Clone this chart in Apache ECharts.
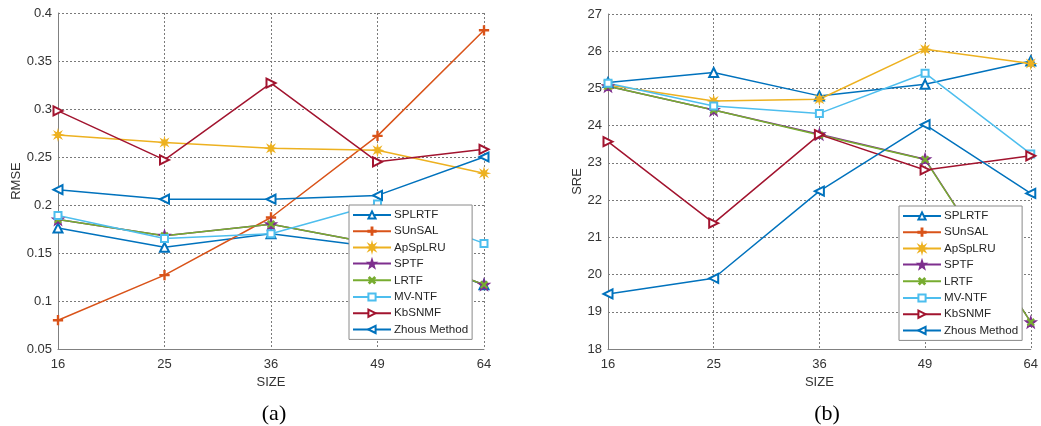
<!DOCTYPE html>
<html>
<head>
<meta charset="utf-8">
<script src="https://cdn.jsdelivr.net/npm/echarts@6/dist/echarts.min.js"></script>
<style>
html,body{margin:0;padding:0;background:#fff;}
#chart{width:1041px;height:426px;}
</style>
</head>
<body>
<div id="chart"></div>
<script>
// ---- data ----
const sizes = ['16', '25', '36', '49', '64'];
const methods = ['SPLRTF', 'SUnSAL', 'ApSpLRU', 'SPTF', 'LRTF', 'MV-NTF', 'KbSNMF', 'Zhous Method'];

// (a) RMSE
const rmseSPLRTF  = [0.176, 0.156, 0.170, 0.156, 0.117];
const rmseSUnSAL  = [0.080, 0.127, 0.187, 0.272, 0.382];
const rmseApSpLRU = [0.273, 0.265, 0.259, 0.257, 0.233];
const rmseSPTF    = [0.185, 0.168, 0.180, 0.159, 0.117];
const rmseLRTF    = [0.185, 0.168, 0.180, 0.159, 0.117];
const rmseMVNTF   = [0.189, 0.165, 0.170, 0.201, 0.160];
const rmseKbSNMF  = [0.298, 0.247, 0.327, 0.245, 0.258];
const rmseZhous   = [0.216, 0.206, 0.206, 0.210, 0.250];

// (b) SRE
const sreSPLRTF  = [25.16, 25.43, 24.80, 25.11, 25.74];
const sreSUnSAL  = [null, null, null, null, null];
const sreApSpLRU = [25.09, 24.66, 24.71, 26.05, 25.67];
const sreSPTF    = [25.06, 24.42, 23.77, 23.10, 18.72];
const sreLRTF    = [25.06, 24.42, 23.75, 23.09, 18.72];
const sreMVNTF   = [25.14, 24.53, 24.33, 25.41, 23.24];
const sreKbSNMF  = [23.57, 21.38, 23.76, 22.81, 23.19];
const sreZhous   = [19.48, 19.90, 22.24, 24.03, 22.18];

const rmseTicks = { min: 0.05, max: 0.4, interval: 0.05 };
const sreTicks = { min: 18, max: 27, interval: 1 };

// ---- styles ----
const colors = {
  'SPLRTF': '#0072BD', 'SUnSAL': '#D95319', 'ApSpLRU': '#EDB120', 'SPTF': '#7E2F8E',
  'LRTF': '#77AC30', 'MV-NTF': '#4DBEEE', 'KbSNMF': '#A2142F', 'Zhous Method': '#0072BD'
};
const PLUS = 'path://M4.4,0H5.6V4.4H10V5.6H5.6V10H4.4V5.6H0V4.4H4.4Z';
const STAR5 = 'path://M5,0L6.176,3.382L9.755,3.455L6.902,5.618L7.939,9.045L5,7L2.061,9.045L3.098,5.618L0.245,3.455L3.824,3.382Z';
const AST = 'path://M5,0L5.8,3.1L8.5,1.5L6.9,4.2L10,5L6.9,5.8L8.5,8.5L5.8,6.9L5,10L4.2,6.9L1.5,8.5L3.1,5.8L0,5L3.1,4.2L1.5,1.5L4.2,3.1Z';
const symbols = {
  'SPLRTF': { symbol: 'emptyTriangle', size: 9, rotate: 0 },
  'SUnSAL': { symbol: PLUS, size: 9, rotate: 0 },
  'ApSpLRU': { symbol: AST, size: 9, rotate: 0 },
  'SPTF': { symbol: STAR5, size: 11, rotate: 0 },
  'LRTF': { symbol: PLUS, size: 8, rotate: 45 },
  'MV-NTF': { symbol: 'emptyRect', size: 7, rotate: 0 },
  'KbSNMF': { symbol: 'emptyTriangle', size: 9, rotate: -90 },
  'Zhous Method': { symbol: 'emptyTriangle', size: 9, rotate: 90 }
};

const rmseData = [rmseSPLRTF, rmseSUnSAL, rmseApSpLRU, rmseSPTF, rmseLRTF, rmseMVNTF, rmseKbSNMF, rmseZhous];
const sreData = [sreSPLRTF, sreSUnSAL, sreApSpLRU, sreSPTF, sreLRTF, sreMVNTF, sreKbSNMF, sreZhous];

const FONT = 'Liberation Sans';
const textColor = '#333333';

function makeSeries(dataList, idx) {
  return methods.map((m, i) => ({
    name: m,
    type: 'line',
    xAxisIndex: idx,
    yAxisIndex: idx,
    data: dataList[i],
    symbol: symbols[m].symbol,
    symbolSize: symbols[m].size,
    symbolRotate: symbols[m].rotate,
    showAllSymbol: true,
    animation: false,
    lineStyle: { color: colors[m], width: 1.5 },
    itemStyle: { color: colors[m], borderColor: colors[m], borderWidth: 1.3 },
    emphasis: { disabled: true }
  }));
}

function xAxisCfg(grid) {
  return {
    type: 'category', gridIndex: grid, data: sizes, boundaryGap: false,
    name: 'SIZE', nameLocation: 'middle', nameGap: 27,
    nameTextStyle: { fontFamily: FONT, fontSize: 13, color: textColor },
    axisLine: { show: true, lineStyle: { color: '#808080', width: 1 } },
    axisTick: { show: false },
    axisLabel: { fontFamily: FONT, fontSize: 13, color: textColor, margin: 9 },
    splitLine: { show: true, lineStyle: { color: '#7a7a7a', type: [2, 2], width: 1 } }
  };
}
function yAxisCfg(grid, name, t, gap) {
  return {
    type: 'value', gridIndex: grid, min: t.min, max: t.max, interval: t.interval,
    name: name, nameLocation: 'middle', nameGap: gap, nameRotate: 90,
    nameTextStyle: { fontFamily: FONT, fontSize: 13, color: textColor },
    axisLine: { show: true, lineStyle: { color: '#808080', width: 1 } },
    axisTick: { show: false },
    axisLabel: { fontFamily: FONT, fontSize: 13, color: textColor, margin: 6 },
    splitLine: { show: true, lineStyle: { color: '#7a7a7a', type: [2, 2], width: 1 } }
  };
}
function legendCfg(left, top) {
  return {
    data: methods, orient: 'vertical', left: left, top: top,
    itemWidth: 38, itemHeight: 9, itemGap: 4.2,
    padding: [4, 4, 4, 3],
    backgroundColor: '#fff', borderColor: '#8a8a8a', borderWidth: 1, borderRadius: 0,
    textStyle: { fontFamily: FONT, fontSize: 11.6, lineHeight: 12, color: '#262626', padding: [0, 0, 0, -2] },
    selectedMode: false
  };
}

const chart = echarts.init(document.getElementById('chart'), null, { renderer: 'canvas' });
chart.setOption({
  animation: false,
  backgroundColor: '#fff',
  title: [
    { text: '(a)', left: 269, top: 398, textAlign: 'center',
      textStyle: { fontFamily: 'Liberation Serif', fontSize: 22, fontWeight: 'normal', color: '#000' } },
    { text: '(b)', left: 822, top: 398, textAlign: 'center',
      textStyle: { fontFamily: 'Liberation Serif', fontSize: 22, fontWeight: 'normal', color: '#000' } }
  ],
  grid: [
    { left: 58, top: 13, width: 426, height: 336 },
    { left: 608, top: 14, width: 427, height: 335 }
  ],
  xAxis: [xAxisCfg(0), xAxisCfg(1)],
  yAxis: [yAxisCfg(0, 'RMSE', rmseTicks, 33), yAxisCfg(1, 'SRE', sreTicks, 17)],
  legend: [legendCfg(349, 205), legendCfg(899, 206)],
  series: makeSeries(rmseData, 0).concat(makeSeries(sreData, 1))
});
</script>
</body>
</html>
